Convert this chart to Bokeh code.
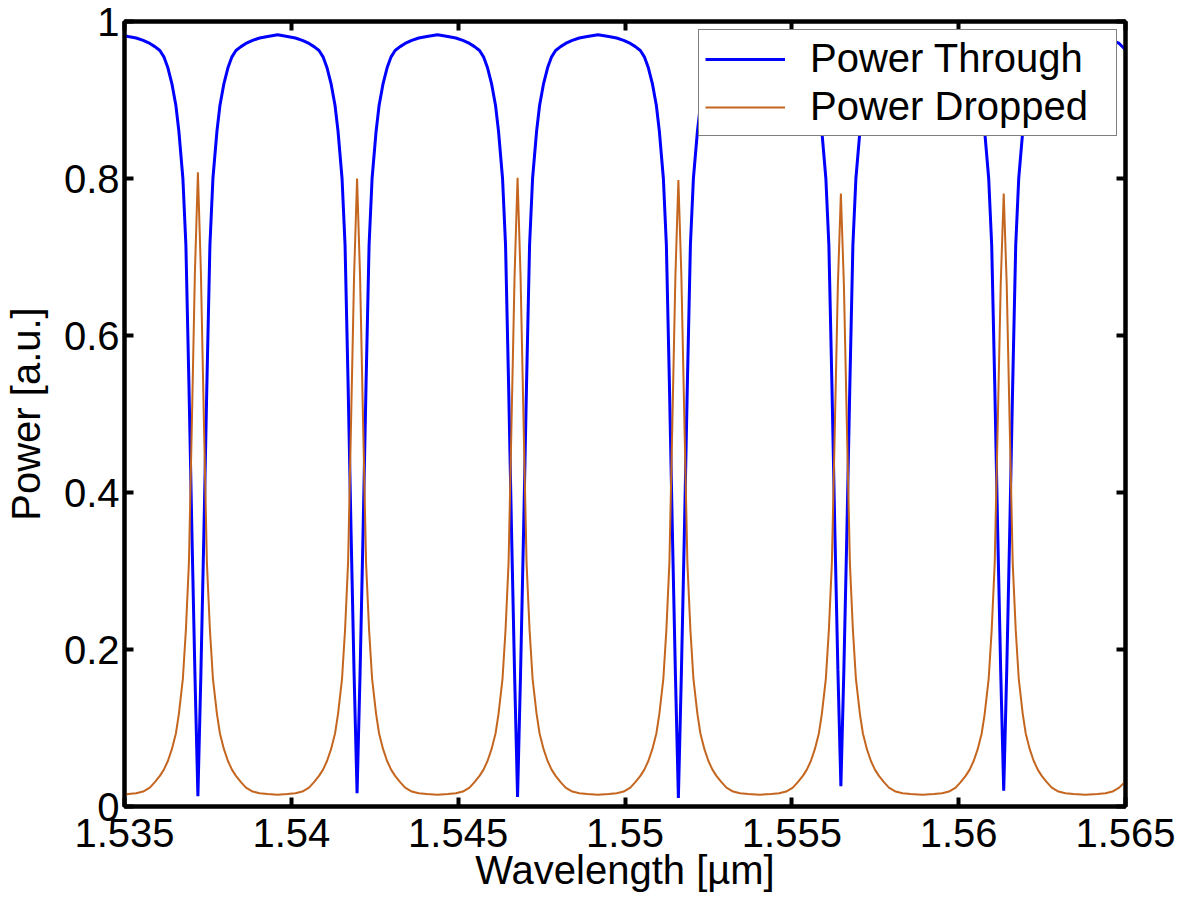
from bokeh.plotting import figure
from bokeh.models import Range1d, FixedTicker, LinearAxis, Legend, LegendItem, ColumnDataSource
from bokeh.embed import file_html
from bokeh.resources import INLINE

# ---- data ----
wavelength = [
    1.53500,
    1.53511, 1.53535, 1.53556, 1.53576, 1.53591, 1.53606, 1.53618, 1.53630,
    1.53642, 1.53654, 1.53663, 1.53675, 1.53684, 1.53693, 1.53702, 1.53711,
    1.53720,
    1.53729, 1.53738, 1.53747, 1.53756, 1.53765, 1.53777, 1.53786, 1.53798,
    1.53810, 1.53822, 1.53834, 1.53849, 1.53864, 1.53884, 1.53905, 1.53929,
    1.53959,
    1.53988, 1.54012, 1.54033, 1.54053, 1.54068, 1.54083, 1.54095, 1.54107,
    1.54119, 1.54131, 1.54140, 1.54152, 1.54161, 1.54170, 1.54179, 1.54188,
    1.54197,
    1.54206, 1.54215, 1.54224, 1.54233, 1.54242, 1.54254, 1.54263, 1.54275,
    1.54287, 1.54299, 1.54311, 1.54326, 1.54341, 1.54361, 1.54382, 1.54406,
    1.54438,
    1.54469, 1.54493, 1.54514, 1.54534, 1.54549, 1.54564, 1.54576, 1.54588,
    1.54600, 1.54612, 1.54621, 1.54633, 1.54642, 1.54651, 1.54660, 1.54669,
    1.54678,
    1.54687, 1.54696, 1.54705, 1.54714, 1.54723, 1.54735, 1.54744, 1.54756,
    1.54768, 1.54780, 1.54792, 1.54807, 1.54822, 1.54842, 1.54863, 1.54887,
    1.54919,
    1.54951, 1.54975, 1.54996, 1.55016, 1.55031, 1.55046, 1.55058, 1.55070,
    1.55082, 1.55094, 1.55103, 1.55115, 1.55124, 1.55133, 1.55142, 1.55151,
    1.55160,
    1.55169, 1.55178, 1.55187, 1.55196, 1.55205, 1.55217, 1.55226, 1.55238,
    1.55250, 1.55262, 1.55274, 1.55289, 1.55304, 1.55324, 1.55345, 1.55369,
    1.55404,
    1.55438, 1.55462, 1.55483, 1.55503, 1.55518, 1.55533, 1.55545, 1.55557,
    1.55569, 1.55581, 1.55590, 1.55602, 1.55611, 1.55620, 1.55629, 1.55638,
    1.55647,
    1.55656, 1.55665, 1.55674, 1.55683, 1.55692, 1.55704, 1.55713, 1.55725,
    1.55737, 1.55749, 1.55761, 1.55776, 1.55791, 1.55811, 1.55832, 1.55856,
    1.55891,
    1.55926, 1.55950, 1.55971, 1.55991, 1.56006, 1.56021, 1.56033, 1.56045,
    1.56057, 1.56069, 1.56078, 1.56090, 1.56099, 1.56108, 1.56117, 1.56126,
    1.56135,
    1.56144, 1.56153, 1.56162, 1.56171, 1.56180, 1.56192, 1.56201, 1.56213,
    1.56225, 1.56237, 1.56249, 1.56264, 1.56279, 1.56299, 1.56320, 1.56344,
    1.56380,
    1.56416, 1.56440, 1.56461, 1.56481, 1.56500,
]

power_through = [
    0.982,
    0.981, 0.979, 0.976, 0.972, 0.968, 0.963, 0.955, 0.941,
    0.921, 0.893, 0.860, 0.800, 0.715, 0.540, 0.350, 0.170,
    0.013,
    0.170, 0.350, 0.540, 0.715, 0.800, 0.860, 0.893, 0.921,
    0.941, 0.955, 0.963, 0.968, 0.972, 0.976, 0.979, 0.981,
    0.983,
    0.981, 0.979, 0.976, 0.972, 0.968, 0.963, 0.955, 0.941,
    0.921, 0.893, 0.860, 0.800, 0.715, 0.540, 0.350, 0.170,
    0.017,
    0.170, 0.350, 0.540, 0.715, 0.800, 0.860, 0.893, 0.921,
    0.941, 0.955, 0.963, 0.968, 0.972, 0.976, 0.979, 0.981,
    0.983,
    0.981, 0.979, 0.976, 0.972, 0.968, 0.963, 0.955, 0.941,
    0.921, 0.893, 0.860, 0.800, 0.715, 0.540, 0.350, 0.170,
    0.012,
    0.170, 0.350, 0.540, 0.715, 0.800, 0.860, 0.893, 0.921,
    0.941, 0.955, 0.963, 0.968, 0.972, 0.976, 0.979, 0.981,
    0.983,
    0.981, 0.979, 0.976, 0.972, 0.968, 0.963, 0.955, 0.941,
    0.921, 0.893, 0.860, 0.800, 0.715, 0.540, 0.350, 0.170,
    0.011,
    0.170, 0.350, 0.540, 0.715, 0.800, 0.860, 0.893, 0.921,
    0.941, 0.955, 0.963, 0.968, 0.972, 0.976, 0.979, 0.981,
    0.983,
    0.981, 0.979, 0.976, 0.972, 0.968, 0.963, 0.955, 0.941,
    0.921, 0.893, 0.860, 0.800, 0.715, 0.540, 0.350, 0.175,
    0.026,
    0.175, 0.350, 0.540, 0.715, 0.800, 0.860, 0.893, 0.921,
    0.941, 0.955, 0.963, 0.968, 0.972, 0.976, 0.979, 0.981,
    0.983,
    0.981, 0.979, 0.976, 0.972, 0.968, 0.963, 0.955, 0.941,
    0.921, 0.893, 0.860, 0.800, 0.715, 0.540, 0.350, 0.172,
    0.020,
    0.172, 0.350, 0.540, 0.715, 0.800, 0.860, 0.893, 0.921,
    0.941, 0.955, 0.963, 0.968, 0.972, 0.976, 0.979, 0.981,
    0.983,
    0.981, 0.979, 0.976, 0.972, 0.964,
]

power_dropped = [
    0.015,
    0.016, 0.017, 0.019, 0.024, 0.031, 0.039, 0.047, 0.058,
    0.073, 0.093, 0.118, 0.163, 0.225, 0.310, 0.490, 0.680,
    0.808,
    0.680, 0.490, 0.310, 0.225, 0.163, 0.118, 0.093, 0.073,
    0.058, 0.047, 0.039, 0.031, 0.024, 0.019, 0.017, 0.016,
    0.015,
    0.016, 0.017, 0.019, 0.024, 0.031, 0.039, 0.047, 0.058,
    0.073, 0.093, 0.118, 0.163, 0.225, 0.310, 0.490, 0.675,
    0.800,
    0.675, 0.490, 0.310, 0.225, 0.163, 0.118, 0.093, 0.073,
    0.058, 0.047, 0.039, 0.031, 0.024, 0.019, 0.017, 0.016,
    0.015,
    0.016, 0.017, 0.019, 0.024, 0.031, 0.039, 0.047, 0.058,
    0.073, 0.093, 0.118, 0.163, 0.225, 0.310, 0.490, 0.675,
    0.801,
    0.675, 0.490, 0.310, 0.225, 0.163, 0.118, 0.093, 0.073,
    0.058, 0.047, 0.039, 0.031, 0.024, 0.019, 0.017, 0.016,
    0.015,
    0.016, 0.017, 0.019, 0.024, 0.031, 0.039, 0.047, 0.058,
    0.073, 0.093, 0.118, 0.163, 0.225, 0.310, 0.490, 0.675,
    0.798,
    0.675, 0.490, 0.310, 0.225, 0.163, 0.118, 0.093, 0.073,
    0.058, 0.047, 0.039, 0.031, 0.024, 0.019, 0.017, 0.016,
    0.015,
    0.016, 0.017, 0.019, 0.024, 0.031, 0.039, 0.047, 0.058,
    0.073, 0.093, 0.118, 0.163, 0.225, 0.310, 0.485, 0.665,
    0.781,
    0.665, 0.485, 0.310, 0.225, 0.163, 0.118, 0.093, 0.073,
    0.058, 0.047, 0.039, 0.031, 0.024, 0.019, 0.017, 0.016,
    0.015,
    0.016, 0.017, 0.019, 0.024, 0.031, 0.039, 0.047, 0.058,
    0.073, 0.093, 0.118, 0.163, 0.225, 0.310, 0.485, 0.665,
    0.781,
    0.665, 0.485, 0.310, 0.225, 0.163, 0.118, 0.093, 0.073,
    0.058, 0.047, 0.039, 0.031, 0.024, 0.019, 0.017, 0.016,
    0.015,
    0.016, 0.017, 0.019, 0.024, 0.032,
]

series_names = ["Power Through", "Power Dropped"]
x_ticks = [1.535, 1.54, 1.545, 1.55, 1.555, 1.56, 1.565]
x_tick_labels = ["1.535", "1.54", "1.545", "1.55", "1.555", "1.56", "1.565"]
y_ticks = [0, 0.2, 0.4, 0.6, 0.8, 1]
y_tick_labels = ["0", "0.2", "0.4", "0.6", "0.8", "1"]
x_label = "Wavelength [µm]"
y_label = "Power [a.u.]"

# ---- styling ----
FONT = "Liberation Sans"
FS = "40px"
BLUE = "#0000FF"
ORANGE = "#C4661F"

source = ColumnDataSource(dict(wl=wavelength, pt=power_through, pd=power_dropped))

p = figure(width=1175, height=894,
           min_border_left=122, min_border_right=50, min_border_top=21, min_border_bottom=88,
           x_range=Range1d(x_ticks[0], x_ticks[-1]), y_range=Range1d(y_ticks[0], y_ticks[-1]),
           output_backend="svg", toolbar_location=None,
           background_fill_color="white", border_fill_color="white")
p.xgrid.visible = False
p.ygrid.visible = False
p.outline_line_color = "black"
p.outline_line_width = 4

r1 = p.line("wl", "pt", source=source, line_color=BLUE, line_width=3)
r2 = p.line("wl", "pd", source=source, line_color=ORANGE, line_width=2)


def style_axis(ax):
    ax.axis_line_color = "black"
    ax.axis_line_width = 4
    ax.major_tick_line_color = "black"
    ax.major_tick_line_width = 4
    ax.major_tick_in = 9
    ax.major_tick_out = 0
    ax.minor_tick_line_color = None
    ax.major_label_text_font = FONT
    ax.major_label_text_font_size = FS
    ax.major_label_text_color = "black"
    ax.axis_label_text_font = FONT
    ax.axis_label_text_font_size = FS
    ax.axis_label_text_font_style = "normal"
    ax.axis_label_text_color = "black"


xa = p.xaxis[0]
style_axis(xa)
xa.ticker = FixedTicker(ticks=x_ticks)
xa.major_label_overrides = {t: s for t, s in zip(x_ticks, x_tick_labels)}
xa.major_label_standoff = 12
xa.axis_label = x_label
xa.axis_label_standoff = -2

ya = p.yaxis[0]
style_axis(ya)
ya.ticker = FixedTicker(ticks=y_ticks)
ya.major_label_overrides = {t: s for t, s in zip(y_ticks, y_tick_labels)}
ya.major_label_standoff = 5
ya.axis_label = y_label
ya.axis_label_standoff = 13

top_ax = LinearAxis(ticker=FixedTicker(ticks=x_ticks))
style_axis(top_ax)
top_ax.major_label_overrides = {t: "" for t in x_ticks}
top_ax.major_label_standoff = 0
p.add_layout(top_ax, "above")

right_ax = LinearAxis(ticker=FixedTicker(ticks=y_ticks))
style_axis(right_ax)
right_ax.major_label_overrides = {t: "" for t in y_ticks}
right_ax.major_label_standoff = 0
p.add_layout(right_ax, "right")

legend = Legend(items=[LegendItem(label=series_names[0], renderers=[r1]),
                       LegendItem(label=series_names[1], renderers=[r2])],
                location="top_right")
legend.label_text_font = FONT
legend.label_text_font_size = FS
legend.label_text_color = "black"
legend.glyph_width = 80
legend.glyph_height = 40
legend.label_height = 40
legend.label_width = 300
legend.label_standoff = 25
legend.spacing = 3
legend.padding = 6
legend.margin = 8
legend.border_line_color = "black"
legend.border_line_width = 1.5
legend.background_fill_color = "white"
legend.background_fill_alpha = 1.0
p.add_layout(legend)

open("out.html", "w").write(file_html(p, INLINE))
